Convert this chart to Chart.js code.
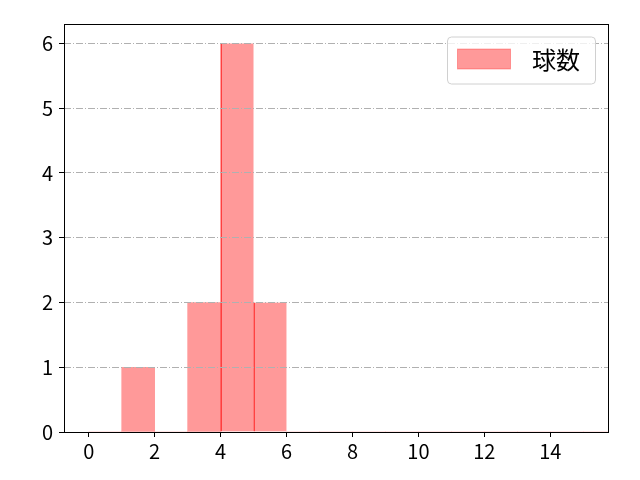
<!DOCTYPE html>
<html>
<head>
<meta charset="utf-8">
<script src="https://cdn.jsdelivr.net/npm/chart.js@4.4.0/dist/chart.umd.min.js"></script>
<style>
  html, body { margin: 0; padding: 0; background: #ffffff; }
  #wrap { width: 640px; height: 480px; position: relative; }
</style>
</head>
<body>
<div id="wrap"><canvas id="c"></canvas></div>
<script>
// ---- data ----
const seriesLabel = '球数';
const binCenters = [0.5, 1.5, 2.5, 3.5, 4.5, 5.5, 6.5, 7.5, 8.5, 9.5, 10.5, 11.5, 12.5, 13.5, 14.5, 15.5];
const counts     = [0,   1,   0,   2,   6,   2,   0,   0,   0,   0,   0,    0,    0,    0,    0,    0];
const xTickValues = [0, 2, 4, 6, 8, 10, 12, 14];
const yTickValues = [0, 1, 2, 3, 4, 5, 6];
const xMin = -0.75, xMax = 15.75;
const yMin = 0, yMax = 6.3;

const FONT = "'Noto Sans CJK JP', 'Noto Sans', sans-serif";

const framePlugin = {
  id: 'frame',
  afterDraw(chart) {
    const a = chart.chartArea, ctx = chart.ctx;
    ctx.save();
    ctx.strokeStyle = '#000000';
    ctx.lineWidth = 1;
    ctx.strokeRect(Math.round(a.left) + 0.5, Math.round(a.top) + 0.5,
                   Math.round(a.right - a.left), Math.round(a.bottom - a.top));
    ctx.restore();
  }
};

const boxLegend = {
  id: 'boxLegend',
  afterDraw(chart) {
    const a = chart.chartArea, ctx = chart.ctx;
    const ds = chart.data.datasets[0];
    const w = 148, h = 47;
    const x = a.right - 13 - w, y = a.top + 12.5;
    ctx.save();
    ctx.beginPath();
    if (ctx.roundRect) ctx.roundRect(x + 0.5, y + 0.5, w, h, 4); else ctx.rect(x + 0.5, y + 0.5, w, h);
    ctx.fillStyle = 'rgba(255,255,255,0.8)';
    ctx.fill();
    ctx.strokeStyle = '#d0d0d0';
    ctx.lineWidth = 1;
    ctx.stroke();
    // swatch
    ctx.fillStyle = ds.backgroundColor;
    ctx.fillRect(x + 10.5, y + 12.5, 53, 20);
    ctx.strokeStyle = 'rgba(255,0,0,0.3)';
    ctx.strokeRect(x + 10.5, y + 12.5, 53, 20);
    // text
    ctx.fillStyle = '#000000';
    ctx.font = '24px ' + FONT;
    ctx.textBaseline = 'middle';
    ctx.textAlign = 'left';
    ctx.fillText(ds.label, x + 85, y + 23.5);
    ctx.restore();
  }
};

new Chart(document.getElementById('c'), {
  type: 'bar',
  data: {
    datasets: [{
      label: seriesLabel,
      data: binCenters.map((c, i) => ({ x: c, y: counts[i] })),
      backgroundColor: 'rgba(255,0,0,0.4)',
      borderColor: 'rgba(255,0,0,0.7)',
      borderWidth: (ctx) => {
        const i = ctx.dataIndex;
        const shared = i > 0 && counts[i - 1] > 0 && counts[i] > 0;
        return { left: shared ? 1 : 0, right: 0, top: 0, bottom: 0 };
      },
      borderSkipped: false,
      barPercentage: 1.0,
      categoryPercentage: 1.0
    }]
  },
  options: {
    responsive: true,
    maintainAspectRatio: false,
    animation: false,
    devicePixelRatio: 1,
    layout: { padding: { top: 24, right: 32, left: 0, bottom: 0 } },
    plugins: {
      legend: { display: false },
      tooltip: { enabled: false }
    },
    scales: {
      x: {
        type: 'linear',
        min: xMin,
        max: xMax,
        offset: false,
        afterBuildTicks: (s) => { s.ticks = xTickValues.map(v => ({ value: v })); },
        afterFit: (s) => { s.height = 48; },
        grid: {
          offset: false,
          drawOnChartArea: false,
          drawTicks: true,
          tickLength: 5,
          tickColor: '#000000',
          tickWidth: 1
        },
        border: { display: false },
        ticks: {
          color: '#000000',
          font: { family: FONT, size: 20 },
          padding: 2,
          maxRotation: 0,
          autoSkip: false
        }
      },
      y: {
        type: 'linear',
        min: yMin,
        max: yMax,
        afterBuildTicks: (s) => { s.ticks = yTickValues.map(v => ({ value: v })); },
        afterFit: (s) => { s.width = 64; },
        grid: {
          z: 1,
          drawOnChartArea: true,
          color: '#b0b0b0',
          lineWidth: 1,
          drawTicks: true,
          tickLength: 5,
          tickColor: '#000000',
          tickWidth: 1,
          tickBorderDash: []
        },
        border: { display: false, dash: [7, 2, 1, 2] },
        ticks: {
          color: '#000000',
          font: { family: FONT, size: 20 },
          padding: 6,
          autoSkip: false
        }
      }
    }
  },
  plugins: [framePlugin, boxLegend]
});
</script>
</body>
</html>
